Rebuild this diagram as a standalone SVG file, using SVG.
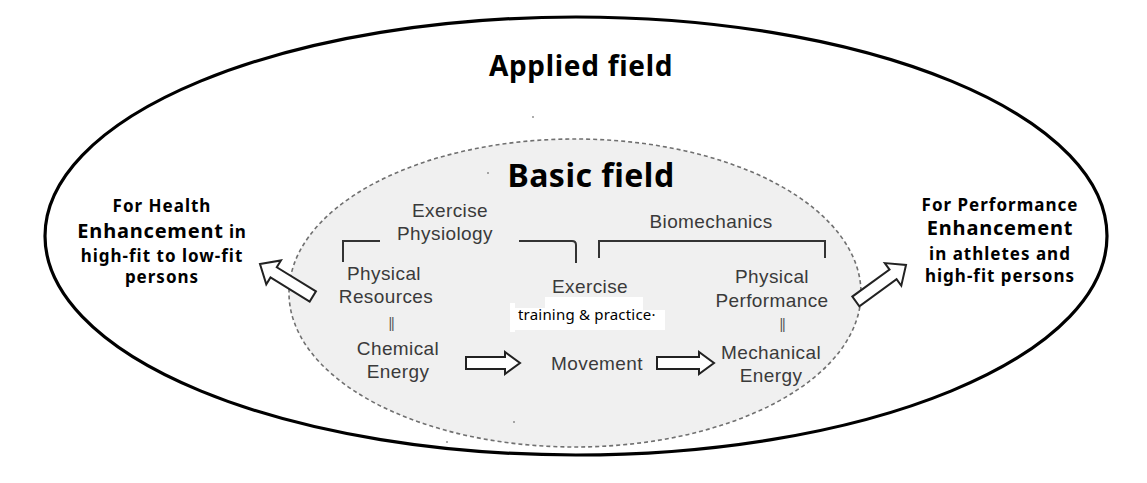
<svg xmlns="http://www.w3.org/2000/svg" width="1147" height="483" viewBox="0 0 1147 483">
<style>
.title{font-family:"Noto Sans","Liberation Sans",sans-serif;font-weight:bold;fill:#000;text-anchor:middle}
.side{font-family:"Noto Sans","Liberation Sans",sans-serif;font-weight:bold;fill:#000;text-anchor:middle;font-size:17px;letter-spacing:1px}
.big{font-size:20px;letter-spacing:0.8px}
.g{font-family:"Liberation Sans",Arial,sans-serif;fill:#3a3a3a;font-size:19px;letter-spacing:0.4px;text-anchor:middle}
.eq{font-family:"Liberation Sans",Arial,sans-serif;fill:#555;font-size:14px;letter-spacing:-1.2px;text-anchor:middle}
.bracket{fill:none;stroke:#333;stroke-width:2}
.barrow{fill:#fff;stroke:#222;stroke-width:2;stroke-linejoin:miter}
</style>
<rect width="1147" height="483" fill="#fff"/>
<g id="applied-field">
<ellipse cx="576" cy="236" rx="531" ry="219" fill="#fff" stroke="#000" stroke-width="3.2"/>
<text class="title" x="581" y="76" font-size="28" letter-spacing="0.7">Applied field</text>
</g>
<g id="basic-field">
<ellipse cx="575" cy="293" rx="286" ry="154" fill="#f0f0f0" stroke="#707070" stroke-width="1.6" stroke-dasharray="4 3"/>
<text class="title" x="591" y="187" font-size="32" letter-spacing="0.5">Basic field</text>
</g>
<g id="exercise-physiology">
<text class="g" x="450" y="217">Exercise</text>
<text class="g" x="445" y="240">Physiology</text>
</g>
<g id="biomechanics">
<text class="g" x="711" y="228">Biomechanics</text>
</g>
<g id="physical-resources">
<text class="g" x="384" y="280">Physical</text>
<text class="g" x="386" y="303">Resources</text>
<text class="eq" x="391" y="328">||</text>
</g>
<g id="chemical-energy">
<text class="g" x="398" y="355">Chemical</text>
<text class="g" x="398" y="378">Energy</text>
</g>
<g id="exercise">
<text class="g" x="590" y="293">Exercise</text>
</g>
<g id="training">
<path d="M510,303 h5 v5 h30 v-11 h98 v13 h22 v20 h-150 v2 h-5 z" fill="#fff"/>
<text x="518" y="320" font-family="Noto Sans,Liberation Sans,sans-serif" font-size="15" letter-spacing="0.2" fill="#000">training &amp; practice·</text>
</g>
<g id="movement">
<text class="g" x="597" y="370">Movement</text>
</g>
<g id="physical-performance">
<text class="g" x="772" y="283">Physical</text>
<text class="g" x="772" y="307">Performance</text>
<text class="eq" x="782" y="329">||</text>
</g>
<g id="mechanical-energy">
<text class="g" x="771" y="359">Mechanical</text>
<text class="g" x="771" y="382">Energy</text>
</g>
<g id="health">
<text class="side" x="162" y="212">For Health</text>
<text x="162" y="238" text-anchor="middle" font-family="Noto Sans,Liberation Sans,sans-serif" font-weight="bold" letter-spacing="0.8"><tspan font-size="20">Enhancement</tspan><tspan font-size="17"> in</tspan></text>
<text class="side" x="162" y="262">high-fit to low-fit</text>
<text class="side" x="162" y="283">persons</text>
</g>
<g id="performance">
<text class="side" x="1000" y="211">For Performance</text>
<text class="side big" x="1000" y="235">Enhancement</text>
<text class="side" x="1000" y="260">in athletes and</text>
<text class="side" x="1000" y="282">high-fit persons</text>
</g>
<g id="connectors">
<path class="bracket" d="M343,262 V241 H380 M519,241 H572 Q576,241 576,245 V263"/>
<path class="bracket" d="M599,258 V241 H825 V258"/>
<polygon class="barrow" points="466,357 505,357 505,352 520,363 505,374 505,369 466,369"/>
<polygon class="barrow" points="657,357 699,357 699,352 714,363 699,374 699,369 657,369"/>
<polygon class="barrow" transform="translate(260,264) rotate(31.6)" points="0,0 16,-14 16,-6 62,-6 62,6 16,6 16,14"/>
<polygon class="barrow" transform="translate(906,265) rotate(144)" points="0,0 16,-14 16,-6 62,-6 62,6 16,6 16,14"/>
</g>
<g id="specks" fill="#444">
<circle cx="533" cy="117" r="0.8"/>
<circle cx="488" cy="173" r="0.8"/>
<circle cx="514" cy="422" r="0.8"/>
<circle cx="447" cy="442" r="0.8"/>
</g>
</svg>
